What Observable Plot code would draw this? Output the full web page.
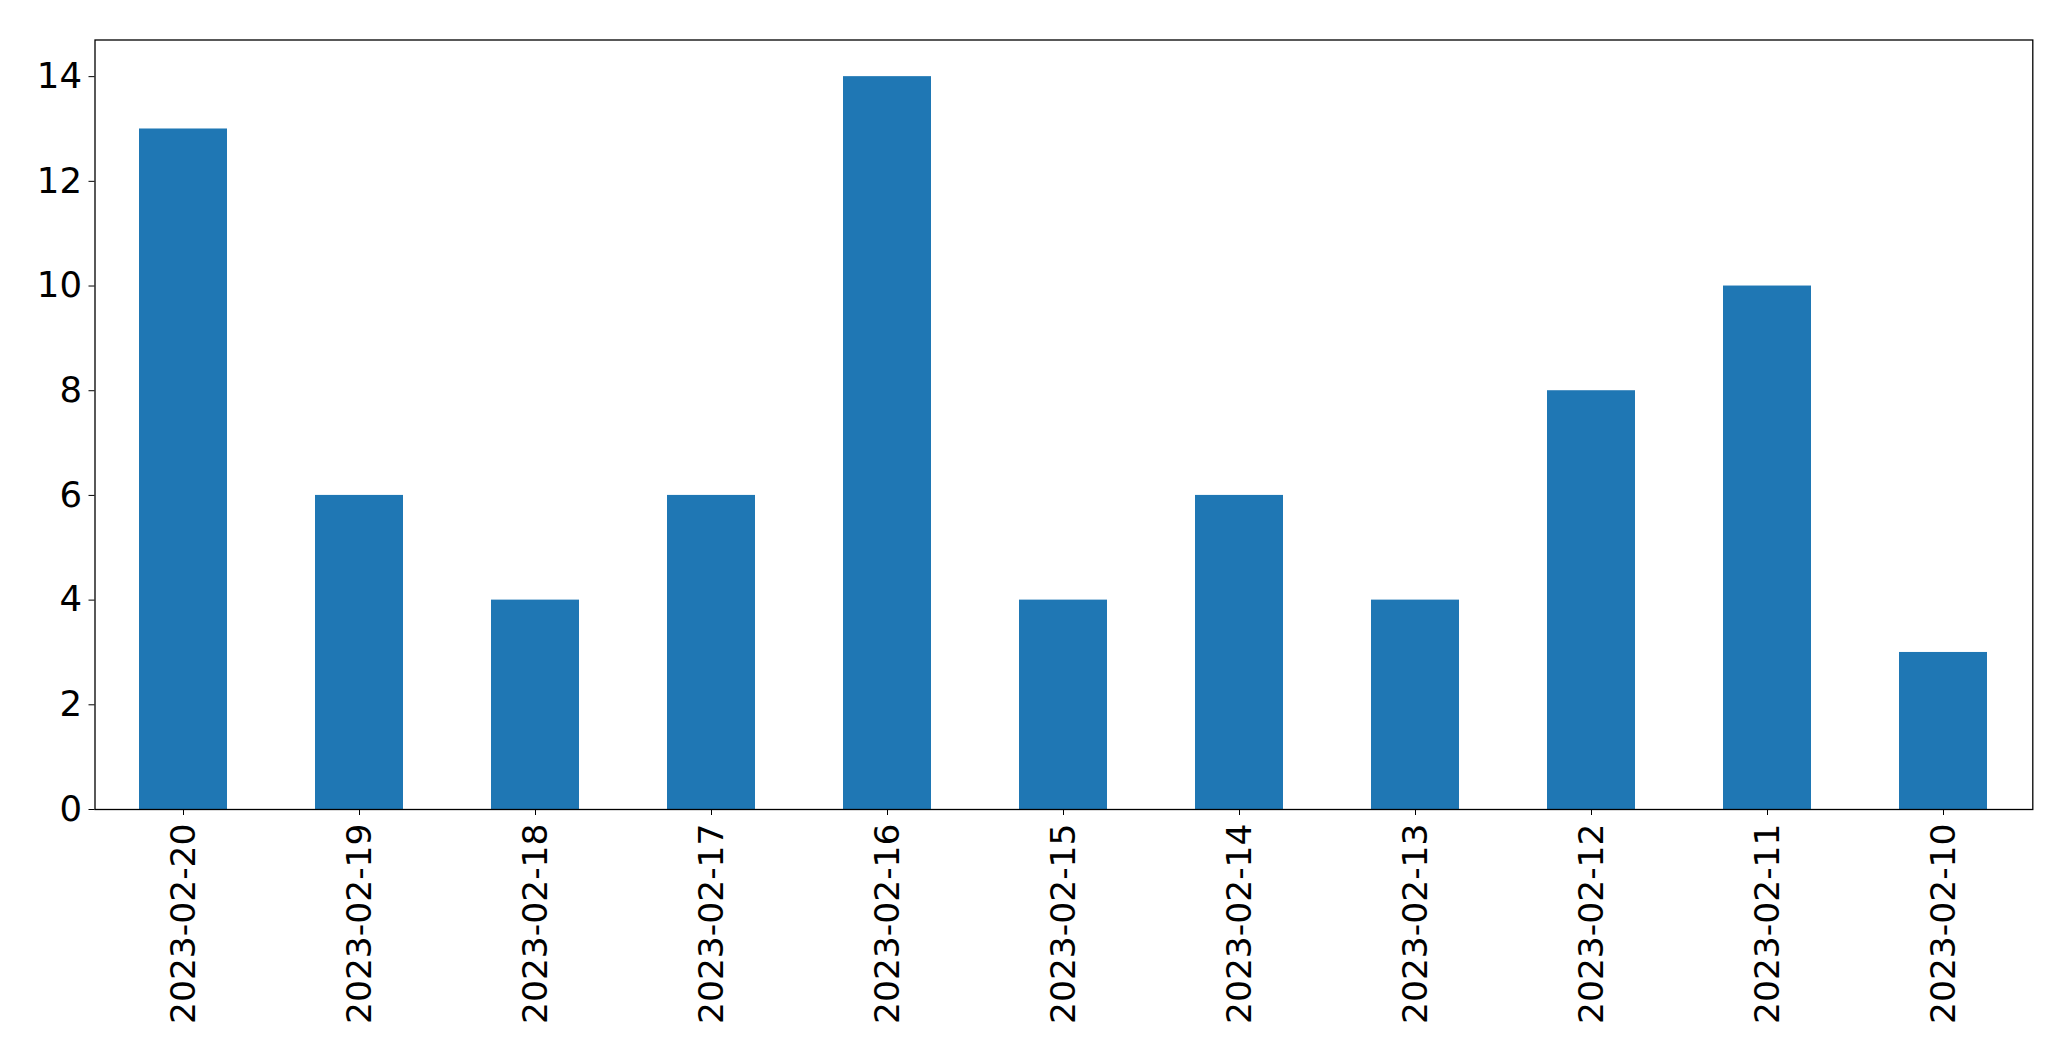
<!DOCTYPE html>
<html><head><meta charset="utf-8">
<script src="https://cdn.jsdelivr.net/npm/d3@7"></script>
<script src="https://cdn.jsdelivr.net/npm/@observablehq/plot@0.6"></script>
<style>html,body{margin:0;padding:0;background:#fff;overflow:hidden}svg{display:block}</style>
</head><body><div id="chart"></div>
<script>
const dates = ["2023-02-20","2023-02-19","2023-02-18","2023-02-17","2023-02-16","2023-02-15","2023-02-14","2023-02-13","2023-02-12","2023-02-11","2023-02-10"];
const counts = [13, 6, 4, 6, 14, 4, 6, 4, 8, 10, 3];
const yTicks = [0, 2, 4, 6, 8, 10, 12, 14];

const data = dates.map((d, i) => ({date: d, count: counts[i]}));
const chart = Plot.plot({
  width: 2071, height: 1061,
  marginLeft: 94.5, marginRight: 38.7, marginTop: 39.5, marginBottom: 252,
  style: {fontFamily: "DejaVu Sans", fontSize: "34.5px", background: "white", color: "black"},
  x: {domain: dates, paddingInner: 0.5, paddingOuter: 0.25, label: null},
  y: {domain: [0, 14.7], label: null},
  marks: [
    Plot.barY(data, {x: "date", y: "count", fill: "#1f77b4"}),
    Plot.frame({stroke: "black", strokeWidth: 1.3}),
    Plot.axisY({ticks: yTicks, tickSize: 6, tickPadding: 7, label: null, fontSize: 35.5, tickFormat: d => String(d)}),
    Plot.axisX({tickRotate: -90, tickSize: 6, tickPadding: 8, label: null, fontSize: 34.5})
  ]
});
document.getElementById("chart").appendChild(chart);
</script>
</body></html>
